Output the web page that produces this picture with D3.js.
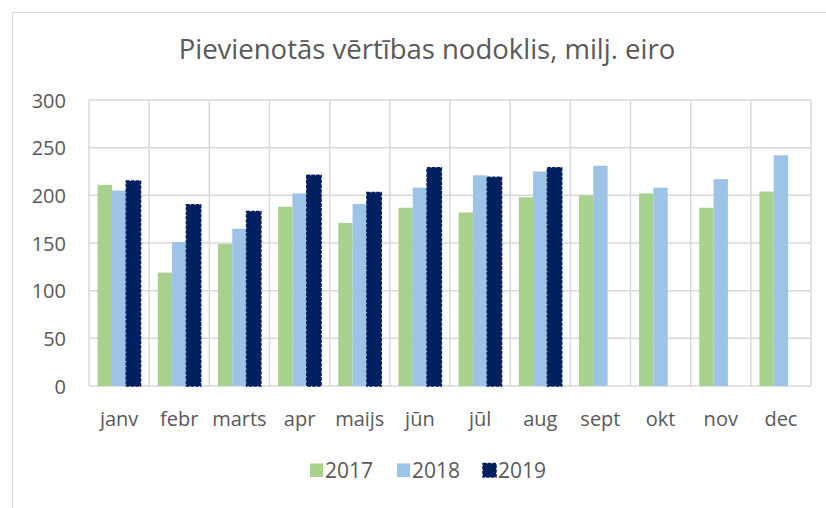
<!DOCTYPE html>
<html>
<head>
<meta charset="utf-8">
<script src="https://cdn.jsdelivr.net/npm/d3@7"></script>
<style>
  body { margin: 0; background: #fff; }
  svg { display: block; font-family: "Open Sans", sans-serif; }
  .lbl { fill: #595959; }
</style>
</head>
<body>
<svg id="chart" width="826" height="508"></svg>
<script>
    // chart data
    var months = ["janv", "febr", "marts", "apr", "maijs", "jūn", "jūl", "aug", "sept", "okt", "nov", "dec"];
    var years = ["2017", "2018", "2019"];
    var vat2017 = [211, 119, 149, 188, 171, 187, 182, 198, 200, 202, 187, 204];
    var vat2018 = [205, 151, 165, 202, 191, 208, 221, 225, 231, 208, 217, 242];
    var vat2019 = [215, 190, 183, 221, 203, 229, 219, 229, null, null, null, null];
    var yTicks = [0, 50, 100, 150, 200, 250, 300];
    var title = "Pievienotās vērtības nodoklis, milj. eiro";

    var colors = ["#a9d18e", "#9dc3e6", "#002060"];
    var series = [vat2017, vat2018, vat2019];

    (function() {
        var svg = d3.select("#chart");
        var plotLeft = 89, plotRight = 811, plotTop = 100, plotBottom = 386;

        // outer chart border
        svg.append("rect")
            .attr("x", 12.5).attr("y", 12.5)
            .attr("width", 830).attr("height", 520)
            .attr("fill", "none")
            .attr("stroke", "#d9d9d9")
            .attr("stroke-width", 1);

        svg.append("text")
            .attr("class", "lbl")
            .attr("x", 427).attr("y", 59)
            .attr("text-anchor", "middle")
            .attr("font-size", "27.5px")
            .text(title);

        var x = d3.scaleBand().domain(months).range([plotLeft, plotRight]).padding(0);
        var y = d3.scaleLinear().domain([0, 300]).range([plotBottom, plotTop]);
        var barW = x.bandwidth() * 0.238;
        var xs = d3.scaleBand().domain(years).range([0, barW * 3]);
        var groupOff = (x.bandwidth() - barW * 3) / 2;

        // gridlines
        var grid = svg.append("g").attr("stroke", "#d9d9d9").attr("stroke-width", 1.5);
        grid.selectAll("line.h").data(yTicks).enter().append("line")
            .attr("x1", plotLeft).attr("x2", plotRight)
            .attr("y1", function(d) { return y(d); })
            .attr("y2", function(d) { return y(d); });
        grid.selectAll("line.v").data(d3.range(months.length + 1)).enter().append("line")
            .attr("x1", function(i) { return plotLeft + i * x.step(); })
            .attr("x2", function(i) { return plotLeft + i * x.step(); })
            .attr("y1", plotTop).attr("y2", plotBottom);

        // bars
        series.forEach(function(vals, si) {
            var g = svg.append("g");
            g.selectAll("rect").data(vals.map(function(v, i) { return {m: months[i], v: v}; })
                .filter(function(d) { return d.v != null; }))
                .enter().append("rect")
                .attr("x", function(d) { return x(d.m) + groupOff + xs(years[si]); })
                .attr("y", function(d) { return y(d.v); })
                .attr("width", barW)
                .attr("height", function(d) { return y(0) - y(d.v); })
                .attr("fill", colors[si])
                .attr("stroke", si == 2 ? colors[si] : "none")
                .attr("stroke-width", 1.5)
                .attr("stroke-dasharray", "3.5,1.2");
        });

        // axes
        var yAxis = d3.axisLeft(y).tickValues(yTicks).tickSize(0).tickPadding(0);
        var ya = svg.append("g").attr("transform", "translate(66,0)").call(yAxis);
        ya.select(".domain").remove();
        ya.selectAll("text").attr("class", "lbl").attr("font-size", "20px")
            .attr("font-family", "Open Sans").attr("dy", "0.35em");

        var xAxis = d3.axisBottom(x).tickSize(0).tickPadding(0);
        var xa = svg.append("g").attr("transform", "translate(0,410)").call(xAxis);
        xa.select(".domain").remove();
        xa.selectAll("text").attr("class", "lbl").attr("font-size", "20px")
            .attr("font-family", "Open Sans").attr("dy", "0.8em");

        // legend
        var legX = [310, 397, 483];
        var leg = svg.append("g").attr("transform", "translate(0,463)");
        years.forEach(function(yr, i) {
            leg.append("rect")
                .attr("x", legX[i]).attr("y", 0.5)
                .attr("width", 13).attr("height", 13.5)
                .attr("fill", colors[i])
                .attr("stroke", i == 2 ? colors[i] : "none")
                .attr("stroke-width", 1.5)
                .attr("stroke-dasharray", "3.5,1.2");
            leg.append("text").attr("class", "lbl")
                .attr("x", legX[i] + 15).attr("y", 15)
                .attr("font-size", "21px")
                .text(yr);
        });
    })();
</script>
</body>
</html>
